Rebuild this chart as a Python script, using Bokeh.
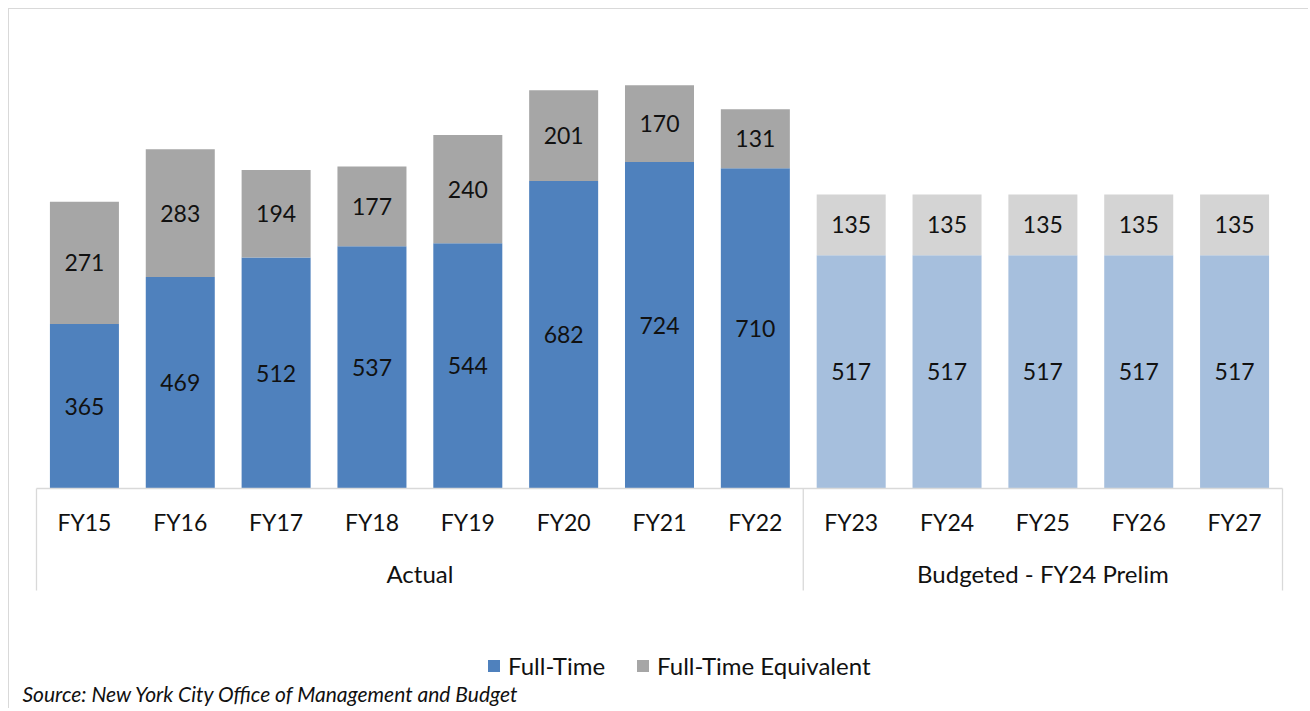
from bokeh.plotting import figure
from bokeh.models import (FactorRange, Range1d, ColumnDataSource, Legend, LegendItem, Label)
from bokeh.core.properties import value
from bokeh.embed import file_html
from bokeh.resources import INLINE

# ---- data ----
actual_years = ["FY15", "FY16", "FY17", "FY18", "FY19", "FY20", "FY21", "FY22"]
budget_years = ["FY23", "FY24", "FY25", "FY26", "FY27"]
group_actual = "Actual"
group_budget = "Budgeted - FY24 Prelim"
full_time_actual = [365, 469, 512, 537, 544, 682, 724, 710]
fte_actual = [271, 283, 194, 177, 240, 201, 170, 131]
full_time_budget = [517, 517, 517, 517, 517]
fte_budget = [135, 135, 135, 135, 135]
series_names = ["Full-Time", "Full-Time Equivalent"]
source_note = "Source: New York City Office of Management and Budget"

# ---- styles ----
FT_DARK, FTE_DARK = "#4F81BD", "#A6A6A6"
FT_LIGHT, FTE_LIGHT = "#A6BFDD", "#D4D4D4"
FONT = "Lato"
TXT = "#111111"
GRID = "#D9D9D9"

factors = [(group_actual, y) for y in actual_years] + [(group_budget, y) for y in budget_years]
ft = full_time_actual + full_time_budget
fte = fte_actual + fte_budget
n_a, n_b = len(actual_years), len(budget_years)
n_all = n_a + n_b

src = ColumnDataSource(dict(
    x=factors,
    year=actual_years + budget_years,
    ft=ft,
    total=[a + b for a, b in zip(ft, fte)],
    ft_mid=[a / 2 for a in ft],
    fte_mid=[a + b / 2 for a, b in zip(ft, fte)],
    ft_lbl=[str(v) for v in ft],
    fte_lbl=[str(v) for v in fte],
    ft_col=[FT_DARK] * n_a + [FT_LIGHT] * n_b,
    fte_col=[FTE_DARK] * n_a + [FTE_LIGHT] * n_b,
))

# ---- layout (pixels) ----
W, H = 1300, 700           # canvas size; frame fills the whole canvas
PAD_PX = 27                # space left/right of the category axis inside the frame
unit_px = (W - 2 * PAD_PX) / n_all
PX_PER_VAL = 0.451         # vertical scale: 1000 units ~ 451 px
BASE_FROM_TOP = 479        # baseline distance from canvas top
y_top = BASE_FROM_TOP / PX_PER_VAL
y_bot = -(H - BASE_FROM_TOP) / PX_PER_VAL
def dy(px_below_base):
    return -px_below_base / PX_PER_VAL

p = figure(width=W, height=H,
           x_range=FactorRange(*factors, factor_padding=0, group_padding=0,
                               range_padding=PAD_PX / unit_px, range_padding_units="absolute"),
           y_range=Range1d(y_bot, y_top),
           output_backend="svg", toolbar_location=None,
           x_axis_location=None, y_axis_location=None,
           min_border=0, min_border_left=0, min_border_right=0,
           min_border_top=0, min_border_bottom=0)
p.outline_line_color = None
p.grid.visible = False
p.background_fill_color = "white"
p.border_fill_color = "white"
p.styles = {"margin-left": "8px", "margin-top": "8px",
            "border-top": "1px solid #D9D9D9", "border-left": "1px solid #D9D9D9"}

r1 = p.vbar(x="x", bottom=0, top="ft", width=0.72, source=src,
            fill_color="ft_col", line_color=None)
r2 = p.vbar(x="x", bottom="ft", top="total", width=0.72, source=src,
            fill_color="fte_col", line_color=None)

lbl_kw = dict(text_font=value(FONT), text_font_size="23px", text_color=TXT,
              text_align="center", text_baseline="middle")
p.text(x="x", y="ft_mid", text="ft_lbl", source=src, **lbl_kw)
p.text(x="x", y="fte_mid", text="fte_lbl", source=src, **lbl_kw)

# category axis drawn Excel-style
bounds = [0, n_a, n_all]
sep_bottom = dy(102)
p.segment(x0=[0], x1=[n_all], y0=[0], y1=[0], line_color=GRID, line_width=1.3)
p.segment(x0=bounds, x1=bounds, y0=[0] * 3, y1=[sep_bottom] * 3, line_color=GRID, line_width=1.3)
p.text(x="x", y=dy(33), text="year", source=src, **lbl_kw)
grp_kw = dict(lbl_kw, text_font_size="24px")
p.text(x=[group_actual, group_budget], y=[dy(85), dy(85)], text=[group_actual, group_budget],
       **grp_kw)

legend = Legend(items=[LegendItem(label=series_names[0], renderers=[r1], index=0),
                       LegendItem(label=series_names[1], renderers=[r2], index=0)],
                orientation="horizontal", location=(477, 29),
                label_text_font=FONT, label_text_font_size="24px", label_text_color=TXT,
                glyph_width=15, glyph_height=15, label_standoff=7, spacing=30,
                padding=0, margin=0, border_line_color=None, background_fill_alpha=0)
p.add_layout(legend)

p.add_layout(Label(x=13, y=16, x_units="screen", y_units="screen", text=source_note,
                   text_font=FONT, text_font_style="italic", text_font_size="21px",
                   text_color=TXT, text_baseline="alphabetic"))

open("out.html", "w").write(file_html(p, INLINE))
